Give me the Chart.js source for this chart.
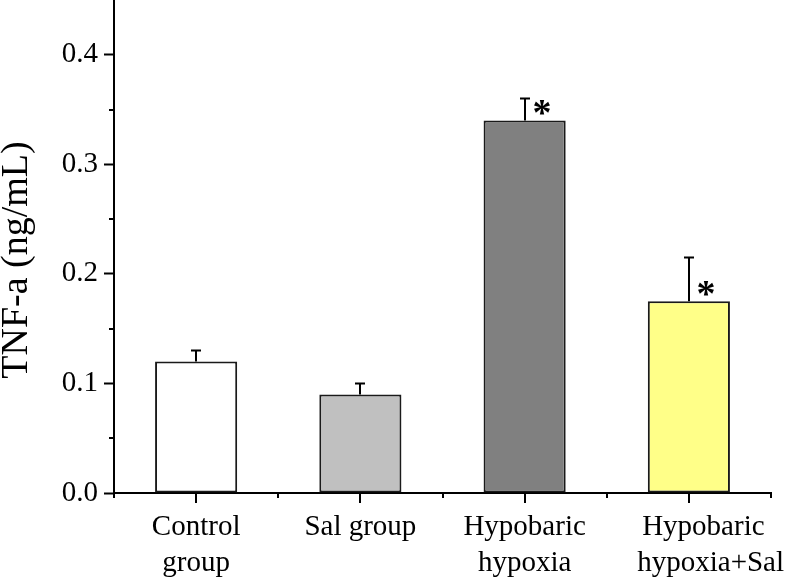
<!DOCTYPE html>
<html>
<head>
<meta charset="utf-8">
<script src="https://cdn.jsdelivr.net/npm/chart.js@4.4.1/dist/chart.umd.min.js"></script>
<style>
  html, body { margin: 0; padding: 0; background: #ffffff; }
  #wrap { width: 787px; height: 586px; position: relative; }
</style>
</head>
<body>
<div id="wrap"><canvas id="c"></canvas></div>
<script>
// ---- data ----
const categories = [['Control', 'group'], 'Sal group', ['Hypobaric', 'hypoxia'], ['Hypobaric', 'hypoxia+Sal']];
const values = [0.12, 0.09, 0.34, 0.175];
const errors = [0.01, 0.01, 0.02, 0.04];
const marks = ['', '', '*', '*'];
const barColors = ['#ffffff', '#c0c0c0', '#808080', '#ffff88'];
const yTicks = [0, 0.1, 0.2, 0.3, 0.4];
const yMinorTicks = [0.05, 0.15, 0.25, 0.35];
const yTitle = 'TNF-a (ng/mL)';

const SERIF = '"Liberation Serif", "Times New Roman", serif';

const decorPlugin = {
  id: 'decor',
  afterDatasetsDraw(chart) {
    const ctx = chart.ctx;
    const ys = chart.scales.y;
    const meta = chart.getDatasetMeta(0);
    ctx.save();
    ctx.strokeStyle = '#000';
    ctx.lineWidth = 2;
    meta.data.forEach((el, i) => {
      const x = Math.round(el.x);
      const top = ys.getPixelForValue(values[i] + errors[i]);
      ctx.beginPath();
      ctx.moveTo(x, el.y);
      ctx.lineTo(x, top);
      ctx.moveTo(x - 5, top);
      ctx.lineTo(x + 5, top);
      ctx.stroke();
      if (marks[i]) {
        ctx.font = 'bold 38px ' + SERIF;
        ctx.fillStyle = '#000';
        ctx.textAlign = 'center';
        ctx.textBaseline = 'alphabetic';
        const m = ctx.measureText(marks[i]);
        const cx = x + 17;
        const cy = el.y - 13;
        const baseline = cy + (m.actualBoundingBoxAscent - m.actualBoundingBoxDescent) / 2;
        ctx.fillText(marks[i], cx, baseline);
      }
    });
    ctx.restore();
  },
  afterDraw(chart) {
    const ctx = chart.ctx;
    const ys = chart.scales.y;
    const xs = chart.scales.x;
    ctx.save();
    ctx.strokeStyle = '#000';
    ctx.lineWidth = 2;
    // y minor ticks
    yMinorTicks.forEach(v => {
      const py = Math.round(ys.getPixelForValue(v));
      ctx.beginPath();
      ctx.moveTo(ys.right - 5, py);
      ctx.lineTo(ys.right, py);
      ctx.stroke();
    });
    // x ticks: major at centers, minor at category boundaries
    const n = categories.length;
    const step = (xs.right - xs.left) / n;
    for (let i = 0; i < n; i++) {
      const px = Math.round(xs.getPixelForValue(i));
      ctx.beginPath();
      ctx.moveTo(px, xs.top);
      ctx.lineTo(px, xs.top + 10);
      ctx.stroke();
    }
    for (let i = 0; i <= n; i++) {
      const px = Math.round(xs.left + i * step);
      ctx.beginPath();
      ctx.moveTo(px, xs.top);
      ctx.lineTo(px, xs.top + 5);
      ctx.stroke();
    }
    // y title
    ctx.font = '38px ' + SERIF;
    ctx.fillStyle = '#000';
    ctx.textAlign = 'center';
    ctx.textBaseline = 'alphabetic';
    ctx.translate(27, 260);
    ctx.rotate(-Math.PI / 2);
    ctx.fillText(yTitle, 0, 0);
    ctx.restore();
  }
};

new Chart(document.getElementById('c'), {
  type: 'bar',
  data: {
    labels: categories,
    datasets: [{
      data: values,
      backgroundColor: barColors,
      borderColor: '#1a1a1a',
      borderWidth: 2,
      borderSkipped: false,
      barPercentage: 0.5,
      categoryPercentage: 1.0
    }]
  },
  options: {
    responsive: true,
    maintainAspectRatio: false,
    animation: false,
    devicePixelRatio: 1,
    layout: { padding: { left: 0, right: 16, top: 0, bottom: 0 } },
    plugins: { legend: { display: false }, tooltip: { enabled: false }, title: { display: false } },
    scales: {
      x: {
        offset: true,
        grid: { display: true, drawOnChartArea: false, drawTicks: false },
        border: { display: true, color: '#000', width: 2 },
        ticks: {
          color: '#000',
          padding: 16,
          maxRotation: 0,
          autoSkip: false,
          font: { family: SERIF, size: 29, lineHeight: 1.24 },
          // the last label sits a little to the right of its tick in the original
          callback: (v, i) => i === categories.length - 1
            ? categories[i].map((s, k) => ' '.repeat(k ? 6 : 4) + s)
            : categories[i]
        },
        afterFit(scale) { scale.height = 93; scale.paddingLeft = 0; scale.paddingRight = 0; }
      },
      y: {
        min: 0,
        max: 0.45,
        afterBuildTicks(scale) { scale.ticks = yTicks.map(v => ({ value: v })); },
        grid: { display: true, drawOnChartArea: false, drawTicks: true, tickLength: 10, tickWidth: 2, tickColor: '#000' },
        border: { display: true, color: '#000', width: 2 },
        ticks: {
          color: '#000',
          padding: 6,
          font: { family: SERIF, size: 29 },
          callback: v => Number(v).toFixed(1)
        },
        title: { display: false },
        afterFit(scale) { scale.width = 114; scale.paddingTop = 0; scale.paddingBottom = 0; }
      }
    }
  },
  plugins: [decorPlugin]
});
</script>
</body>
</html>
